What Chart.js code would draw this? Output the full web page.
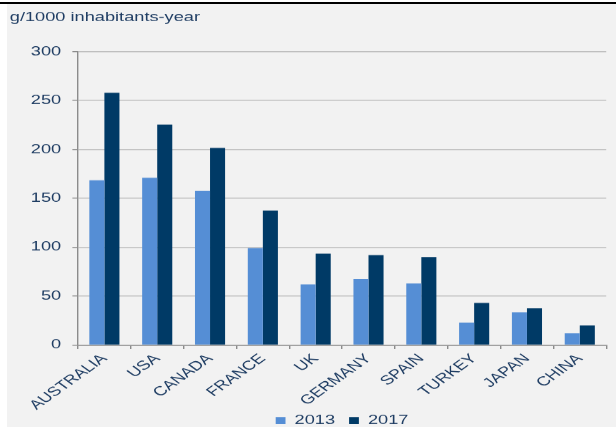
<!DOCTYPE html>
<html>
<head>
<meta charset="utf-8">
<script src="https://cdn.jsdelivr.net/npm/chart.js@4.4.1/dist/chart.umd.min.js"></script>
<style>
  body { margin: 0; background: #fff; overflow: hidden; }
  .rule { position: absolute; left: 0; top: 2px; width: 616px; height: 2px; background: #000; }
  .panel { position: absolute; left: 7px; top: 4px; width: 609px; height: 423px; background: #f2f2f2; overflow: hidden; }
  /* the reference is stretched sideways, so the chart is drawn narrow and widened */
  .stretch { width: 435px; height: 440px; transform: scaleX(1.4); transform-origin: 0 0; }
</style>
</head>
<body>
<div class="rule"></div>
<div class="panel"><div class="stretch"><canvas id="barChart"></canvas></div></div>
<script>
var countries = ["AUSTRALIA", "USA", "CANADA", "FRANCE", "UK", "GERMANY", "SPAIN", "TURKEY", "JAPAN", "CHINA"];
var values2013 = [168.5, 171, 157.5, 99, 62, 67.5, 63, 23, 33.5, 12];
var values2017 = [258, 225.5, 201.5, 137.5, 93.5, 92, 90, 43, 37.5, 20];
var yMin = 0;
var yMax = 300;
var yStep = 50;

var textColor = "#1f3d63";
var font = { family: "'Liberation Sans', Arial, sans-serif", size: 13 };

// pull the legend up a little so it sits just under the rotated labels
var legendLift = {
  id: "legendLift",
  afterLayout: function (chart) {
    chart.legend.top -= 7;
    chart.legend.bottom -= 7;
  },
};

window.onload = function () {
  var ctx = document.getElementById("barChart").getContext("2d");
  var barChart = new Chart(ctx, {
    type: "bar",
    data: {
      labels: countries,
      datasets: [
        {
          label: "2013",
          data: values2013,
          backgroundColor: "#558ed5",
          borderWidth: 0,
        },
        {
          label: "2017",
          data: values2017,
          backgroundColor: "#003a66",
          borderWidth: 0,
        },
      ],
    },
    plugins: [legendLift],
    options: {
      responsive: true,
      maintainAspectRatio: false,
      animation: false,
      devicePixelRatio: 1.4,
      layout: { padding: { left: 2, right: 7, top: 0, bottom: 0 } },
      datasets: { bar: { categoryPercentage: 0.57, barPercentage: 1 } },
      plugins: {
        title: {
          display: true,
          text: "g/1000 inhabitants-year",
          align: "start",
          color: textColor,
          font: { family: font.family, size: 13, weight: "normal" },
          padding: { top: 6, bottom: 26 },
        },
        legend: {
          position: "bottom",
          fullSize: false,
          labels: {
            color: textColor,
            font: font,
            boxWidth: 7,
            boxHeight: 7,
            padding: 10,
          },
        },
        tooltip: { enabled: false },
      },
      scales: {
        x: {
          grid: {
            display: true,
            drawOnChartArea: false,
            drawTicks: true,
            tickLength: 4,
            tickColor: "#8c8c8c",
          },
          border: { color: "#8c8c8c", width: 1 },
          ticks: {
            color: textColor,
            font: font,
            maxRotation: 45,
            minRotation: 45,
            autoSkip: false,
            padding: 2,
          },
          afterFit: function (s) {
            s.height = 66;
          },
        },
        y: {
          min: yMin,
          max: yMax,
          grid: {
            color: "#bfbfbf",
            tickColor: "#8c8c8c",
            tickLength: 4,
          },
          border: { color: "#8c8c8c", width: 1 },
          ticks: {
            stepSize: yStep,
            color: textColor,
            font: font,
            padding: 8,
          },
          afterFit: function (s) {
            s.width = 48.7;
          },
        },
      },
    },
  });
};
</script>
</body>
</html>
